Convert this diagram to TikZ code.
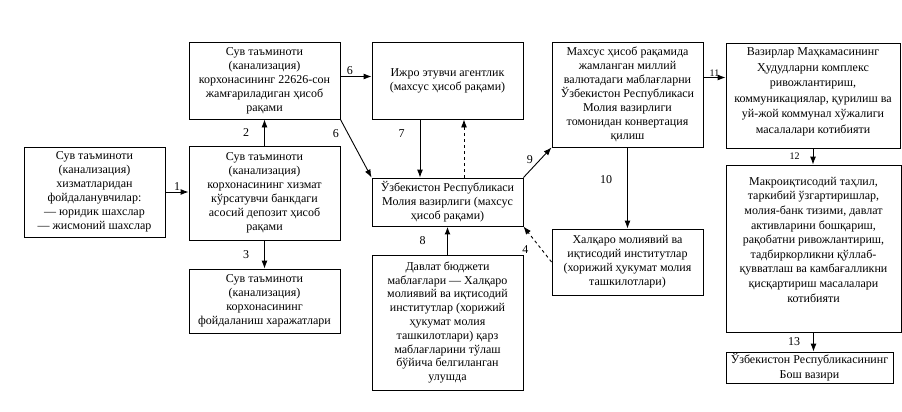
\documentclass[tikz,border=0pt]{standalone}
\usepackage{fontspec}
\setmainfont{Liberation Serif}
\usetikzlibrary{arrows.meta}

\begin{document}
\begin{tikzpicture}[x=1pt,y=-1pt,line width=0.9pt,
    >={Latex[length=8pt,width=6pt]},
    box/.style={draw, align=center, inner sep=1pt, font=\fontsize{12}{14}\selectfont},
    num/.style={font=\fontsize{12}{14}\selectfont, inner sep=1pt},
    smallnum/.style={font=\fontsize{10}{12}\selectfont, inner sep=1pt}]
  \useasboundingbox (0,0) rectangle (902,412);
  % left column
  \node[box, minimum width=141pt, minimum height=90pt] (users) at (94.5,192)
    {Сув таъминоти\\(канализация)\\хизматларидан\\фойдаланувчилар:\\— юридик шахслар\\— жисмоний шахслар};
  \node[box, minimum width=151pt, minimum height=77pt] (reserve) at (264.5,80.5)
    {Сув таъминоти\\(канализация)\\корхонасининг 22626-сон\\жамғариладиган ҳисоб\\рақами};
  \node[box, minimum width=151pt, minimum height=94pt] (deposit) at (264.5,193)
    {Сув таъминоти\\(канализация)\\корхонасининг хизмат\\кўрсатувчи банкдаги\\асосий депозит ҳисоб\\рақами};
  \node[box, minimum width=151pt, minimum height=64pt] (costs) at (264.5,301)
    {Сув таъминоти\\(канализация)\\корхонасининг\\фойдаланиш харажатлари};
  % middle column
  \node[box, minimum width=151pt, minimum height=77pt] (agency) at (447.5,80.5)
    {Ижро этувчи агентлик\\(махсус ҳисоб рақами)};
  \node[box, minimum width=151pt, minimum height=48pt] (minfin) at (447.5,202)
    {Ўзбекистон Республикаси\\Молия вазирлиги (махсус\\ҳисоб рақами)};
  \node[box, minimum width=151pt, minimum height=135pt, font=\fontsize{12}{13.8}\selectfont] (budget) at (447.5,322.5)
    {Давлат бюджети\\маблағлари — Халқаро\\молиявий ва иқтисодий\\институтлар (хорижий\\ҳукумат молия\\ташкилотлари) қарз\\маблағларини тўлаш\\бўйича белгиланган\\улушда};
  \node[box, minimum width=151pt, minimum height=105pt] (convert) at (627.5,94.5)
    {Махсус ҳисоб рақамида\\жамланган миллий\\валютадаги маблағларни\\Ўзбекистон Республикаси\\Молия вазирлиги\\томонидан конвертация\\қилиш};
  \node[box, minimum width=151pt, minimum height=66pt] (intl) at (627.5,262)
    {Халқаро молиявий ва\\иқтисодий институтлар\\(хорижий ҳукумат молия\\ташкилотлари)};
  % right column
  \node[box, minimum width=174pt, minimum height=105pt, font=\fontsize{12}{15.5}\selectfont] (cabinet) at (813,95.5)
    {Вазирлар Маҳкамасининг\\Ҳудудларни комплекс\\ривожлантириш,\\коммуникациялар, қурилиш ва\\уй-жой коммунал хўжалиги\\масалалари котибияти\\[-5.5pt]\mbox{}};
  \node[box, minimum width=175pt, minimum height=167pt, font=\fontsize{12}{14.6}\selectfont] (secretariat) at (813.5,248.5)
    {Макроиқтисодий таҳлил,\\таркибий ўзгартиришлар,\\молия-банк тизими, давлат\\активларини бошқариш,\\рақобатни ривожлантириш,\\тадбиркорликни қўллаб-\\қувватлаш ва камбағалликни\\қисқартириш масалалари\\котибияти\\[3.4pt]\mbox{}};
  \node[box, minimum width=167pt, minimum height=31pt, font=\fontsize{12}{15}\selectfont] (premier) at (809.5,367.5)
    {Ўзбекистон Республикасининг\\Бош вазири};
  % connectors
  \draw[->] (users.east) -- node[num, above] {1} (users.east -| deposit.west);
  \draw[->] (deposit.north) -- node[num, left=14pt] {2} (reserve.south);
  \draw[->] (deposit.south) -- node[num, left=14pt] {3} (costs.north);
  \draw[->] ([yshift=4pt]reserve.east) -- node[num, above, pos=0.3] {6} ([yshift=4pt]agency.west);
  \draw[->] (reserve.south east) -- node[num, left=8pt, pos=0.25] {6} (minfin.north west);
  \draw[->] ([xshift=-27.5pt]agency.south) -- node[num, left=14pt, pos=0.25] {7} ([xshift=-27.5pt]minfin.north);
  \draw[->, dashed] ([xshift=16.5pt]minfin.north) -- ([xshift=16.5pt]agency.south);
  \draw[->, line width=1.8pt] (budget.north) -- node[num, left=20pt] {8} (minfin.south);
  \draw[->] (minfin.north east) -- node[num, left=6pt, pos=0.6] {9} (convert.south west);
  \draw[->] (convert.south) -- node[num, left=14pt, pos=0.4] {10} (intl.north);
  \draw[->, dashed] (intl.west) -- node[num, left=12pt, pos=0.35] {4} (minfin.south east);
  \draw[->] ([yshift=17pt]convert.east) -- node[smallnum, above] {11} ([yshift=17pt]convert.east -| cabinet.west);
  \draw[->] (cabinet.south) -- node[smallnum, left=12pt] {12} (cabinet.south |- secretariat.north);
  \draw[->] (secretariat.south) -- node[num, left=12pt] {13} (secretariat.south |- premier.north);
\end{tikzpicture}
\end{document}
